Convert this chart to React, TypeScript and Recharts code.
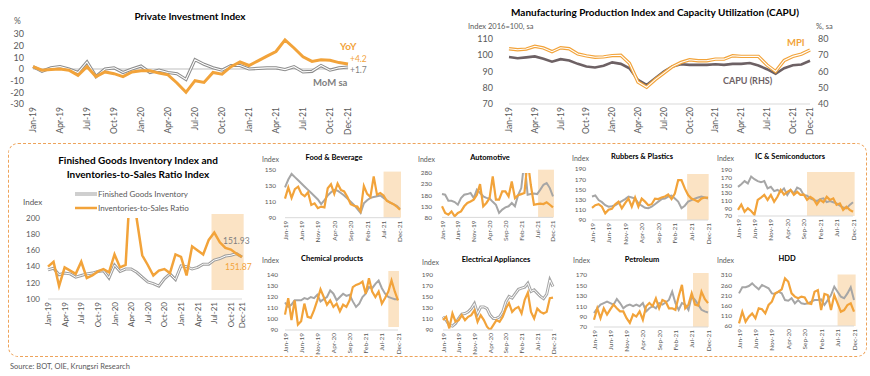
import React from "react";
import { LineChart, Line, XAxis, YAxis, ReferenceArea, ReferenceLine } from "recharts";

const FONT = "Lato, 'Open Sans', sans-serif";
const ORANGE = "#f2a33a";
const GRAY = "#a6a6a6";
const DARK = "#7f7f7f";
const TEXT = "#595959";
const SHADE = "#fbe3c4";

const months = [
  "Jan-19", "Feb-19", "Mar-19", "Apr-19", "May-19", "Jun-19", "Jul-19", "Aug-19", "Sep-19", "Oct-19", "Nov-19", "Dec-19",
  "Jan-20", "Feb-20", "Mar-20", "Apr-20", "May-20", "Jun-20", "Jul-20", "Aug-20", "Sep-20", "Oct-20", "Nov-20", "Dec-20",
  "Jan-21", "Feb-21", "Mar-21", "Apr-21", "May-21", "Jun-21", "Jul-21", "Aug-21", "Sep-21", "Oct-21", "Nov-21", "Dec-21",
];
const quarterTicks = [0, 3, 6, 9, 12, 15, 18, 21, 24, 27, 30, 33, 35];
const fiveTicks = [0, 5, 10, 15, 20, 25, 30, 35];

// Private Investment Index, %
const yoy = [2, -1, -0.5, 0, -1, -5.5, 2, -6.5, -2.5, -4, -6.5, -2.5, -1.5, -1.5, -3.5, -5, -12, -20, -10, -11.5, -3, -4.5, 2, 6, 3, 7, 11, 15, 25, 18, 10.5, 6.5, 8, 7.5, 5.5, 4.2];
const momSa = [2, -2, 1, 2, 0, -3, 6, -6.5, 0, 1, -3, 0, 2.5, -3, -1, -3, -4, -9, 8, 4, 1, -1, 3, 3, 0, 0.5, 1, 1, -0.5, 2, -2.5, -2, 3, -1, 1, 1.7];

// MPI (index) and CAPU (%)
const mpi = [104, 103.4, 103.8, 105.5, 104.5, 102.2, 104.6, 104, 100.8, 99.6, 98.8, 99, 99.8, 100, 95, 83.5, 80.3, 85, 89, 93, 95.6, 97.2, 96.6, 96.6, 97.6, 97.6, 99.7, 99.3, 99.3, 99.3, 94, 90, 96.8, 99.3, 100.7, 103.2];
const capu = [68.9, 68.2, 68.7, 69.3, 67.8, 66, 67.6, 66.8, 64.7, 63.1, 62.5, 63.5, 65.6, 64.7, 62, 54.8, 51.7, 55.9, 60, 63.1, 64.5, 64.1, 64.1, 64.1, 64.5, 64.1, 64.7, 64.7, 65.2, 63.7, 61.4, 58.6, 62, 63.9, 64.3, 66.6];

// Finished goods inventory and inventories-to-sales ratio
const fgi = [136, 138, 130, 132, 131, 127, 129, 131, 132, 134, 135, 126, 142, 134, 137, 137, 133, 127, 121, 119, 116, 125, 131, 124, 141, 140, 137, 139, 143, 143, 148, 150, 153, 154, 156, 151.93];
const isr = [140, 146, 116, 139, 135, 131, 146, 126, 129, 134, 137, 133, 155, 139, 142, 260, 199, 154, 142, 129, 135, 137, 132, 155, 152, 129, 165, 160, 155, 173, 182, 170, 163, 161, 156, 151.87];

// industries: gray = finished goods inventory, orange = inventories-to-sales ratio
const fbGray = [128, 138, 145, 141, 137, 133, 129, 125, 121, 117, 113, 107, 112, 118, 122, 125, 124, 121, 118, 114, 110, 106, 101, 96, 108, 112, 115, 116, 117, 118, 115, 112, 109, 107, 105, 101];
const fbOrange = [114, 128, 115, 126, 129, 120, 117, 122, 106, 108, 102, 104, 103, 127, 132, 120, 133, 125, 123, 116, 107, 105, 104, 98, 130, 120, 116, 142, 119, 121, 118, 111, 109, 107, 104, 100];
const autoGray = [185, 182, 155, 155, 149, 137, 167, 182, 185, 190, 167, 205, 190, 175, 168, 165, 150, 137, 100, 115, 125, 130, 145, 130, 180, 212, 340, 182, 185, 188, 185, 205, 227, 235, 212, 175];
const autoOrange = [130, 100, 92, 107, 85, 100, 107, 130, 145, 152, 160, 182, 230, 130, 145, 167, 265, 160, 160, 197, 197, 175, 242, 167, 180, 185, 190, 340, 227, 137, 140, 142, 140, 148, 137, 125];
const rubGray = [136, 138, 129, 125, 119, 116, 117, 119, 123, 127, 131, 136, 134, 132, 123, 118, 114, 113, 116, 121, 126, 131, 132, 136, 138, 132, 126, 113, 118, 126, 129, 132, 134, 136, 134, 132];
const rubOrange = [114, 119, 121, 116, 103, 110, 112, 121, 126, 113, 123, 132, 116, 134, 116, 132, 126, 119, 121, 132, 131, 134, 136, 140, 131, 142, 168, 168, 152, 139, 132, 129, 126, 132, 134, 134];
const icGray = [146, 153, 161, 155, 173, 166, 161, 158, 161, 142, 146, 135, 138, 133, 142, 125, 138, 129, 144, 140, 125, 123, 116, 112, 109, 114, 116, 106, 109, 106, 103, 97, 92, 90, 99, 106];
const icOrange = [86, 100, 81, 90, 83, 73, 112, 118, 125, 112, 125, 107, 120, 138, 126, 133, 138, 125, 133, 125, 126, 112, 120, 114, 100, 112, 106, 120, 112, 116, 99, 103, 86, 94, 86, 81];
const chemGray = [115, 111, 113, 117, 117, 117, 119, 118, 120, 119, 122, 116, 118, 120, 126, 123, 117, 120, 123, 121, 122, 116, 111, 114, 120, 123, 129, 128, 132, 135, 128, 123, 120, 119, 118, 118];
const chemOrange = [104, 119, 99, 117, 95, 98, 114, 102, 101, 108, 117, 127, 120, 113, 117, 111, 114, 107, 113, 111, 117, 129, 131, 132, 134, 123, 137, 125, 120, 125, 114, 119, 125, 135, 125, 117];
const elecGray = [114, 108, 99, 97, 102, 111, 119, 120, 123, 129, 138, 120, 132, 132, 129, 117, 111, 111, 114, 123, 141, 151, 148, 156, 164, 166, 168, 175, 160, 163, 157, 151, 147, 155, 181, 169];
const elecOrange = [108, 114, 93, 120, 105, 108, 117, 108, 114, 117, 126, 105, 117, 108, 96, 90, 99, 108, 105, 114, 129, 139, 123, 129, 132, 120, 145, 158, 123, 111, 129, 123, 120, 123, 148, 149];
const petGray = [97, 106, 113, 116, 119, 116, 113, 124, 116, 106, 111, 113, 110, 113, 110, 116, 100, 106, 110, 106, 116, 113, 117, 122, 138, 116, 103, 116, 113, 103, 129, 122, 113, 103, 100, 98];
const petOrange = [84, 106, 87, 106, 94, 104, 113, 106, 100, 100, 87, 78, 94, 90, 100, 84, 110, 116, 110, 125, 106, 122, 119, 106, 106, 103, 129, 151, 106, 113, 135, 113, 111, 138, 124, 116];
const hddGray = [220, 250, 250, 256, 269, 253, 240, 261, 253, 245, 220, 217, 228, 220, 187, 184, 196, 171, 187, 171, 168, 171, 179, 187, 187, 190, 163, 187, 212, 253, 228, 204, 196, 220, 250, 187];
const hddOrange = [73, 130, 81, 106, 122, 98, 147, 142, 122, 163, 179, 220, 228, 240, 294, 277, 220, 204, 196, 204, 200, 171, 168, 228, 236, 138, 217, 212, 138, 212, 171, 130, 138, 163, 171, 130];

const rows = (a: number[], b: number[]) => a.map((v, i) => ({ i, a: v, b: b[i] }));

function Txt({ x, y, children, size = 8, color = TEXT, bold = false, align = "left" }: any) {
  const tx = align === "center" ? "-50%" : align === "right" ? "-100%" : "0";
  return (
    <div
      style={{
        position: "absolute",
        left: x,
        top: y,
        transform: `translate(${tx}, -50%)`,
        fontSize: size,
        color,
        fontWeight: bold ? 700 : 400,
        whiteSpace: "nowrap",
        lineHeight: 1,
      }}
    >
      {children}
    </div>
  );
}

function RotTick(props: any) {
  const { x, y, payload, fs } = props;
  return (
    <text x={x} y={y} transform={`rotate(-90 ${x} ${y})`} textAnchor="end" dominantBaseline="central" fontSize={fs} fill={TEXT}>
      {months[payload.value]}
    </text>
  );
}

function Panel({ title, plot, domain, ticks, tm, gray, orange, shade, grayDouble, titleAt, indexAt }: any) {
  const [x0, x1, yT, yB] = plot;
  const yw = 30;
  const mt = 4;
  const mr = 4;
  const xh = 30;
  return (
    <>
      <div style={{ position: "absolute", left: x0 - yw, top: yT - mt }}>
        <LineChart width={x1 - x0 + yw + mr} height={yB - yT + mt + xh} data={rows(gray, orange)} margin={{ top: mt, right: mr, bottom: 0, left: 0 }}>
          <XAxis
            type="number"
            dataKey="i"
            domain={[0, 35]}
            ticks={fiveTicks}
            interval={0}
            height={xh}
            axisLine={{ stroke: "#d9d9d9" }}
            tickLine={false}
            tickSize={0}
            tickMargin={3}
            tick={(p: any) => <RotTick {...p} fs={6.5} />}
          />
          <YAxis
            domain={domain}
            ticks={ticks}
            interval={0}
            width={yw}
            axisLine={false}
            tickLine={false}
            tickSize={0}
            tickMargin={tm}
            allowDataOverflow
            tick={{ fontSize: 6.5, fill: TEXT }}
          />
          {shade && <ReferenceArea x1={shade[0]} x2={shade[1]} y1={shade[2]} y2={shade[3]} fill={SHADE} fillOpacity={1} stroke="none" ifOverflow="visible" />}
          <Line type="linear" dataKey="a" stroke={GRAY} strokeWidth={grayDouble ? 3 : 2} dot={false} isAnimationActive={false} />
          {grayDouble && <Line type="linear" dataKey="a" stroke="#ffffff" strokeWidth={1} dot={false} isAnimationActive={false} />}
          <Line type="linear" dataKey="b" stroke={ORANGE} strokeWidth={2.2} dot={false} isAnimationActive={false} />
        </LineChart>
      </div>
      <Txt x={titleAt[0]} y={titleAt[1]} size={7.5} bold color="#000" align="center">{title}</Txt>
      <Txt x={indexAt[0]} y={indexAt[1]} size={7}>Index</Txt>
    </>
  );
}

export default function App() {
  return (
    <div style={{ position: "absolute", left: 0, top: 0, width: 870, height: 376, background: "#fff", overflow: "hidden", fontFamily: FONT }}>
      {/* Private Investment Index */}
      <div style={{ position: "absolute", left: 0, top: 0 }}>
        <LineChart width={430} height={142} data={rows(yoy, momSa)} margin={{ top: 34, right: 82, bottom: 0, left: 0 }}>
          <XAxis
            type="number"
            dataKey="i"
            domain={[0, 35]}
            ticks={quarterTicks}
            interval={0}
            height={38}
            axisLine={false}
            tickLine={false}
            tickSize={0}
            tickMargin={3}
            tick={(p: any) => <RotTick {...p} fs={8.5} />}
          />
          <YAxis domain={[-30, 30]} ticks={[-30, -20, -10, 0, 10, 20, 30]} interval={0} width={33} axisLine={false} tickLine={false} tickSize={0} tickMargin={9} tick={{ fontSize: 9, fill: TEXT }} />
          <ReferenceLine y={0} stroke="#bfbfbf" strokeWidth={1} />
          <Line type="linear" dataKey="b" stroke="#8c8c8c" strokeWidth={3.2} dot={false} isAnimationActive={false} />
          <Line type="linear" dataKey="b" stroke="#ffffff" strokeWidth={1.1} dot={false} isAnimationActive={false} />
          <Line type="linear" dataKey="a" stroke={ORANGE} strokeWidth={3} dot={false} isAnimationActive={false} />
        </LineChart>
      </div>
      <Txt x={190} y={16} size={10} bold color="#000" align="center">Private Investment Index</Txt>
      <Txt x={14} y={21} size={8.5}>%</Txt>
      <Txt x={340} y={46} size={10} bold color={ORANGE}>YoY</Txt>
      <Txt x={350} y={59} size={8.5} color={ORANGE}>+4.2</Txt>
      <Txt x={350} y={70} size={8.5} color={DARK}>+1.7</Txt>
      <Txt x={313} y={83} size={9.5} bold color={DARK}>MoM sa</Txt>

      {/* Manufacturing Production Index and CAPU */}
      <div style={{ position: "absolute", left: 430, top: 0 }}>
        <LineChart width={440} height={142} data={rows(mpi, capu)} margin={{ top: 39, right: 0, bottom: 0, left: 0 }}>
          <XAxis
            type="number"
            dataKey="i"
            domain={[0, 35]}
            ticks={quarterTicks}
            interval={0}
            height={38}
            axisLine={{ stroke: "#d9d9d9" }}
            tickLine={false}
            tickSize={0}
            tickMargin={3}
            tick={(p: any) => <RotTick {...p} fs={8.5} />}
          />
          <YAxis yAxisId="l" domain={[70, 110]} ticks={[70, 80, 90, 100, 110]} interval={0} width={79} axisLine={false} tickLine={false} tickSize={0} tickMargin={16} tick={{ fontSize: 9, fill: TEXT }} />
          <YAxis yAxisId="r" orientation="right" domain={[40, 80]} ticks={[40, 50, 60, 70, 80]} interval={0} width={60} axisLine={false} tickLine={false} tickSize={0} tickMargin={8} tick={{ fontSize: 9, fill: TEXT }} />
          <Line yAxisId="r" type="linear" dataKey="b" stroke="#6d6164" strokeWidth={2.6} dot={false} isAnimationActive={false} />
          <Line yAxisId="l" type="linear" dataKey="a" stroke={ORANGE} strokeWidth={3.4} dot={false} isAnimationActive={false} />
          <Line yAxisId="l" type="linear" dataKey="a" stroke="#ffffff" strokeWidth={1.1} dot={false} isAnimationActive={false} />
        </LineChart>
      </div>
      <Txt x={655} y={12} size={10} bold color="#000" align="center">Manufacturing Production Index and Capacity Utilization (CAPU)</Txt>
      <Txt x={468} y={27} size={7.5}>Index 2016=100, sa</Txt>
      <Txt x={816} y={27} size={7.5}>%, sa</Txt>
      <Txt x={787} y={43} size={9.5} bold color={ORANGE}>MPI</Txt>
      <Txt x={723} y={80} size={9} bold color="#6d6164">CAPU (RHS)</Txt>

      {/* dashed frame */}
      <div style={{ position: "absolute", left: 8, top: 143, width: 857, height: 212, border: "1px dashed #eea35a", borderRadius: 10 }} />

      {/* Finished goods inventory */}
      <div style={{ position: "absolute", left: 0, top: 210 }}>
        <LineChart width={260} height={140} data={rows(fgi, isr)} margin={{ top: 8, right: 18, bottom: 0, left: 0 }}>
          <XAxis
            type="number"
            dataKey="i"
            domain={[0, 35]}
            ticks={quarterTicks}
            interval={0}
            height={51}
            axisLine={{ stroke: "#d9d9d9" }}
            tickLine={false}
            tickSize={0}
            tickMargin={3}
            tick={(p: any) => <RotTick {...p} fs={8} />}
          />
          <YAxis domain={[100, 200]} ticks={[100, 120, 140, 160, 180, 200]} interval={0} width={48} axisLine={false} tickLine={false} tickSize={0} tickMargin={8} allowDataOverflow tick={{ fontSize: 8, fill: TEXT }} />
          <ReferenceArea x1={29.5} x2={35.3} y1={111} y2={205} fill={SHADE} fillOpacity={1} stroke="none" ifOverflow="visible" />
          <Line type="linear" dataKey="a" stroke="#9e9e9e" strokeWidth={3} dot={false} isAnimationActive={false} />
          <Line type="linear" dataKey="a" stroke="#ffffff" strokeWidth={1} dot={false} isAnimationActive={false} />
          <Line type="linear" dataKey="b" stroke={ORANGE} strokeWidth={2.5} dot={false} isAnimationActive={false} />
        </LineChart>
      </div>
      <Txt x={138} y={160} size={10} bold color="#000" align="center">Finished Goods Inventory Index and</Txt>
      <Txt x={138} y={174} size={10} bold color="#000" align="center">Inventories-to-Sales Ratio Index</Txt>
      <svg style={{ position: "absolute", left: 74, top: 188 }} width={24} height={24}>
        <line x1={1} y1={6} x2={23} y2={6} stroke="#9e9e9e" strokeWidth={3} />
        <line x1={1} y1={6} x2={23} y2={6} stroke="#fff" strokeWidth={1} />
        <line x1={1} y1={20} x2={23} y2={20} stroke={ORANGE} strokeWidth={2.5} />
      </svg>
      <Txt x={98} y={194} size={8}>Finished Goods Inventory</Txt>
      <Txt x={98} y={208} size={8}>Inventories-to-Sales Ratio</Txt>
      <Txt x={23} y={202} size={8}>Index</Txt>
      <Txt x={223} y={241} size={8.5} color={DARK}>151.93</Txt>
      <Txt x={225} y={267} size={8.5} color={ORANGE}>151.87</Txt>

      <Panel title="Food & Beverage" plot={[285, 400, 170, 217.7]} domain={[90, 150]} ticks={[90, 110, 130, 150]} tm={9} gray={fbGray} orange={fbOrange} shade={[30, 35.3, 90, 148]} titleAt={[334, 158]} indexAt={[262, 159]} />
      <Panel title="Automotive" plot={[442, 553, 173.3, 217.7]} domain={[80, 280]} ticks={[80, 130, 180, 230, 280]} tm={10} gray={autoGray} orange={autoOrange} shade={[30.3, 35.3, 80, 295]} titleAt={[490, 158]} indexAt={[418, 159]} />
      <Panel title="Rubbers & Plastics" plot={[592, 708, 169, 220]} domain={[90, 190]} ticks={[90, 110, 130, 150, 170, 190]} tm={6} gray={rubGray} orange={rubOrange} shade={[28.7, 35.2, 90, 180]} titleAt={[642, 157]} indexAt={[572, 158]} />
      <Panel title="IC & Semiconductors" plot={[738, 853, 170, 216]} domain={[70, 190]} ticks={[70, 90, 110, 130, 150, 170, 190]} tm={6} gray={icGray} orange={icOrange} shade={[21, 35.5, 70, 185]} titleAt={[790, 157]} indexAt={[717, 158]} />
      <Panel title="Chemical products" plot={[285, 398, 275, 330]} domain={[90, 140]} ticks={[90, 100, 110, 120, 130, 140]} tm={7} gray={chemGray} orange={chemOrange} shade={[32, 35.3, 92.7, 144.5]} titleAt={[332, 259]} indexAt={[262, 260]} />
      <Panel title="Electrical Appliances" plot={[443, 553, 275, 330]} domain={[90, 190]} ticks={[90, 110, 130, 150, 170, 190]} tm={10} gray={elecGray} orange={elecOrange} grayDouble titleAt={[496, 260]} indexAt={[422, 262]} />
      <Panel title="Petroleum" plot={[594, 708, 275, 327]} domain={[70, 170]} ticks={[70, 90, 110, 130, 150, 170]} tm={7} gray={petGray} orange={petOrange} shade={[30.4, 35.2, 70, 174]} titleAt={[642, 260]} indexAt={[573, 260]} />
      <Panel title="HDD" plot={[739, 854, 275, 326]} domain={[60, 310]} ticks={[60, 110, 160, 210, 260, 310]} tm={7} gray={hddGray} orange={hddOrange} shade={[30, 35.5, 60, 312]} titleAt={[787, 259]} indexAt={[717, 260]} />

      <Txt x={10} y={367} size={7.5}>Source: BOT, OIE, Krungsri Research</Txt>
    </div>
  );
}
